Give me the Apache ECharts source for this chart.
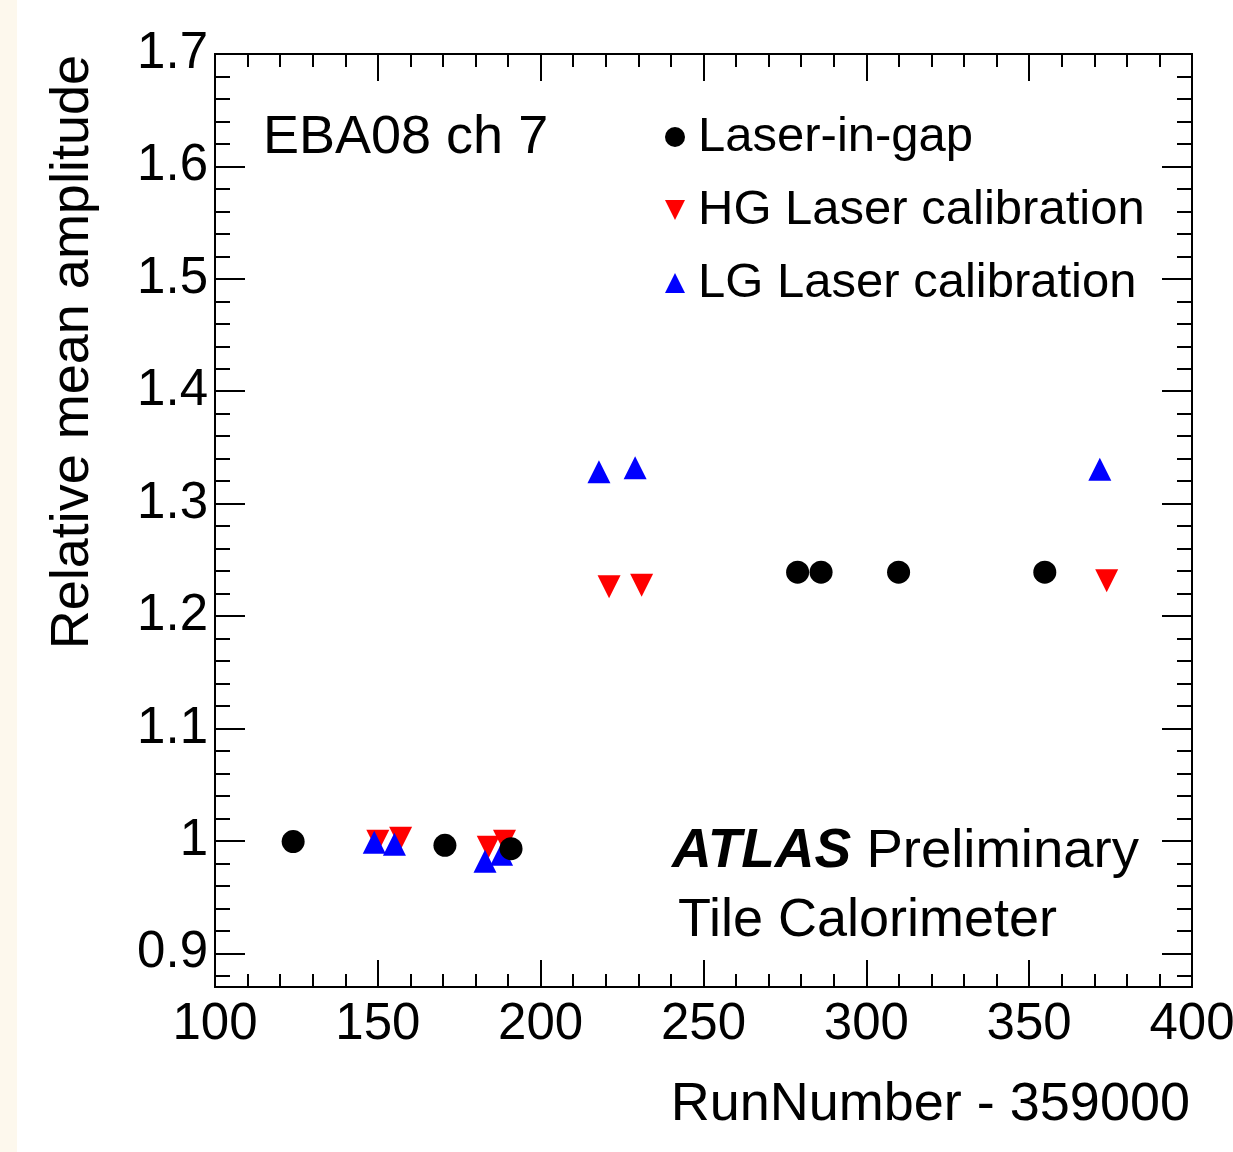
<!DOCTYPE html>
<html>
  <head>
    <meta charset="utf-8" />
    <script src="https://cdn.jsdelivr.net/npm/echarts@6/dist/echarts.min.js"></script>
  </head>
  <body>
    <style>
      #main,
      html,
      body {
        width: 100%;
        height: 100%;
        margin: 0;
        overflow: hidden;
        background: #fff;
      }
    </style>
    <div id="main"></div>
    <script type="text/javascript">
      // run number - 359000 and relative mean amplitude
      var laserRun = [124, 170.6, 190.9, 278.9, 286.1, 309.9, 354.8];
      var laserAmp = [0.9994, 0.996, 0.993, 1.239, 1.239, 1.239, 1.239];

      var hgRun = [150, 157, 183.9, 188.9, 221, 231, 373.8];
      var hgAmp = [0.9997, 1.0023, 0.9943, 0.9997, 1.226, 1.2275, 1.2315];

      var lgRun = [148.9, 155.1, 182.9, 188, 217.9, 229, 371.7];
      var lgAmp = [0.9988, 0.997, 0.9819, 0.988, 1.3283, 1.3319, 1.3307];

      var yMajor = [0.9, 1.0, 1.1, 1.2, 1.3, 1.4, 1.5, 1.6, 1.7];
      var yMinor = [];
      for (var k = 44; k <= 85; k++) yMinor.push(k / 50);

      var font = '"Liberation Sans", Arial, sans-serif';

      function zip(a, b) {
        return a.map(function (v, i) { return [v, b[i]]; });
      }

      var myChart = echarts.init(document.getElementById('main'));
      window.addEventListener('resize', function () {
        myChart.resize();
      });

      var line = { color: '#000', width: 2 };

      function xAxisOf(pos) {
        return {
          type: 'value', position: pos, min: 100, max: 400, interval: 50,
          axisLine: { onZero: false, lineStyle: line },
          axisTick: { inside: true, length: 27, lineStyle: line },
          minorTick: { show: true, splitNumber: 5, length: 13, lineStyle: line },
          splitLine: { show: false },
          minorSplitLine: { show: false },
          axisLabel: {
            show: pos === 'bottom', fontSize: 51, color: '#000', fontFamily: font, margin: 12
          }
        };
      }

      function yAxisOf(pos, ticks, len, labels) {
        return {
          type: 'value', position: pos, offset: 0, min: 0.87, max: 1.7,
          axisLine: { show: true, onZero: false, lineStyle: line },
          axisTick: { show: true, inside: true, length: len, customValues: ticks, lineStyle: line },
          splitLine: { show: false },
          axisLabel: {
            show: labels, customValues: yMajor, fontSize: 51, color: '#000', fontFamily: font, margin: 7,
            padding: [6, 0, 0, 0],
            formatter: function (v) { return String(+v.toFixed(1)); }
          }
        };
      }

      var option = {
        backgroundColor: '#fff',
        animation: false,
        grid: { left: 215, top: 54, width: 977, height: 933, containLabel: false, outerBoundsMode: 'none' },
        xAxis: [xAxisOf('bottom'), xAxisOf('top')],
        yAxis: [
          yAxisOf('left', yMajor, 30, true),
          yAxisOf('left', yMinor, 15, false),
          yAxisOf('right', yMajor, 30, false),
          yAxisOf('right', yMinor, 15, false)
        ],
        legend: {
          orient: 'vertical', left: 665, top: 109, padding: 0,
          itemWidth: 20, itemHeight: 20, itemGap: 17,
          selectedMode: false,
          textStyle: { fontSize: 49, color: '#000', fontFamily: font, lineHeight: 56, padding: [0, 0, 0, 8] },
          data: ['Laser-in-gap', 'HG Laser calibration', 'LG Laser calibration']
        },
        series: [
          {
            name: 'HG Laser calibration', type: 'scatter', symbol: 'path://M0,0L2,0L1,2Z', symbolSize: 23,
            itemStyle: { color: '#ff0000', opacity: 1 }, data: zip(hgRun, hgAmp)
          },
          {
            name: 'LG Laser calibration', type: 'scatter', symbol: 'triangle', symbolSize: 23,
            itemStyle: { color: '#0000ff', opacity: 1 }, data: zip(lgRun, lgAmp)
          },
          {
            name: 'Laser-in-gap', type: 'scatter', symbol: 'circle', symbolSize: 23,
            itemStyle: { color: '#000', opacity: 1 }, data: zip(laserRun, laserAmp)
          }
        ],
        graphic: [
          { type: 'rect', left: 0, top: 0, shape: { width: 17, height: 1152 }, style: { fill: '#fdf8ed' }, silent: true },
          {
            type: 'text', x: 263, y: 138,
            style: { text: 'EBA08 ch 7', fontSize: 54, fontFamily: font, fill: '#000', verticalAlign: 'middle' }
          },
          {
            type: 'text', x: 672, y: 852,
            style: {
              text: '{a|ATLAS} {b|Preliminary}', fontSize: 54.5, fontFamily: font, fill: '#000', verticalAlign: 'middle',
              rich: {
                a: { fontSize: 55, fontFamily: font, fontWeight: 'bold', fontStyle: 'italic', fill: '#000' },
                b: { fontSize: 54.5, fontFamily: font, fill: '#000' }
              }
            }
          },
          {
            type: 'text', x: 678, y: 921,
            style: { text: 'Tile Calorimeter', fontSize: 54, fontFamily: font, fill: '#000', verticalAlign: 'middle' }
          },
          {
            type: 'text', x: 1190, y: 1105,
            style: { text: 'RunNumber - 359000', fontSize: 54, fontFamily: font, fill: '#000', align: 'right', verticalAlign: 'middle' }
          },
          {
            type: 'text', x: 73, y: 55, rotation: Math.PI / 2,
            style: { text: 'Relative mean amplitude', fontSize: 54, fontFamily: font, fill: '#000', align: 'right', verticalAlign: 'middle' }
          }
        ]
      };

      myChart.setOption(option);
    </script>
  </body>
</html>
